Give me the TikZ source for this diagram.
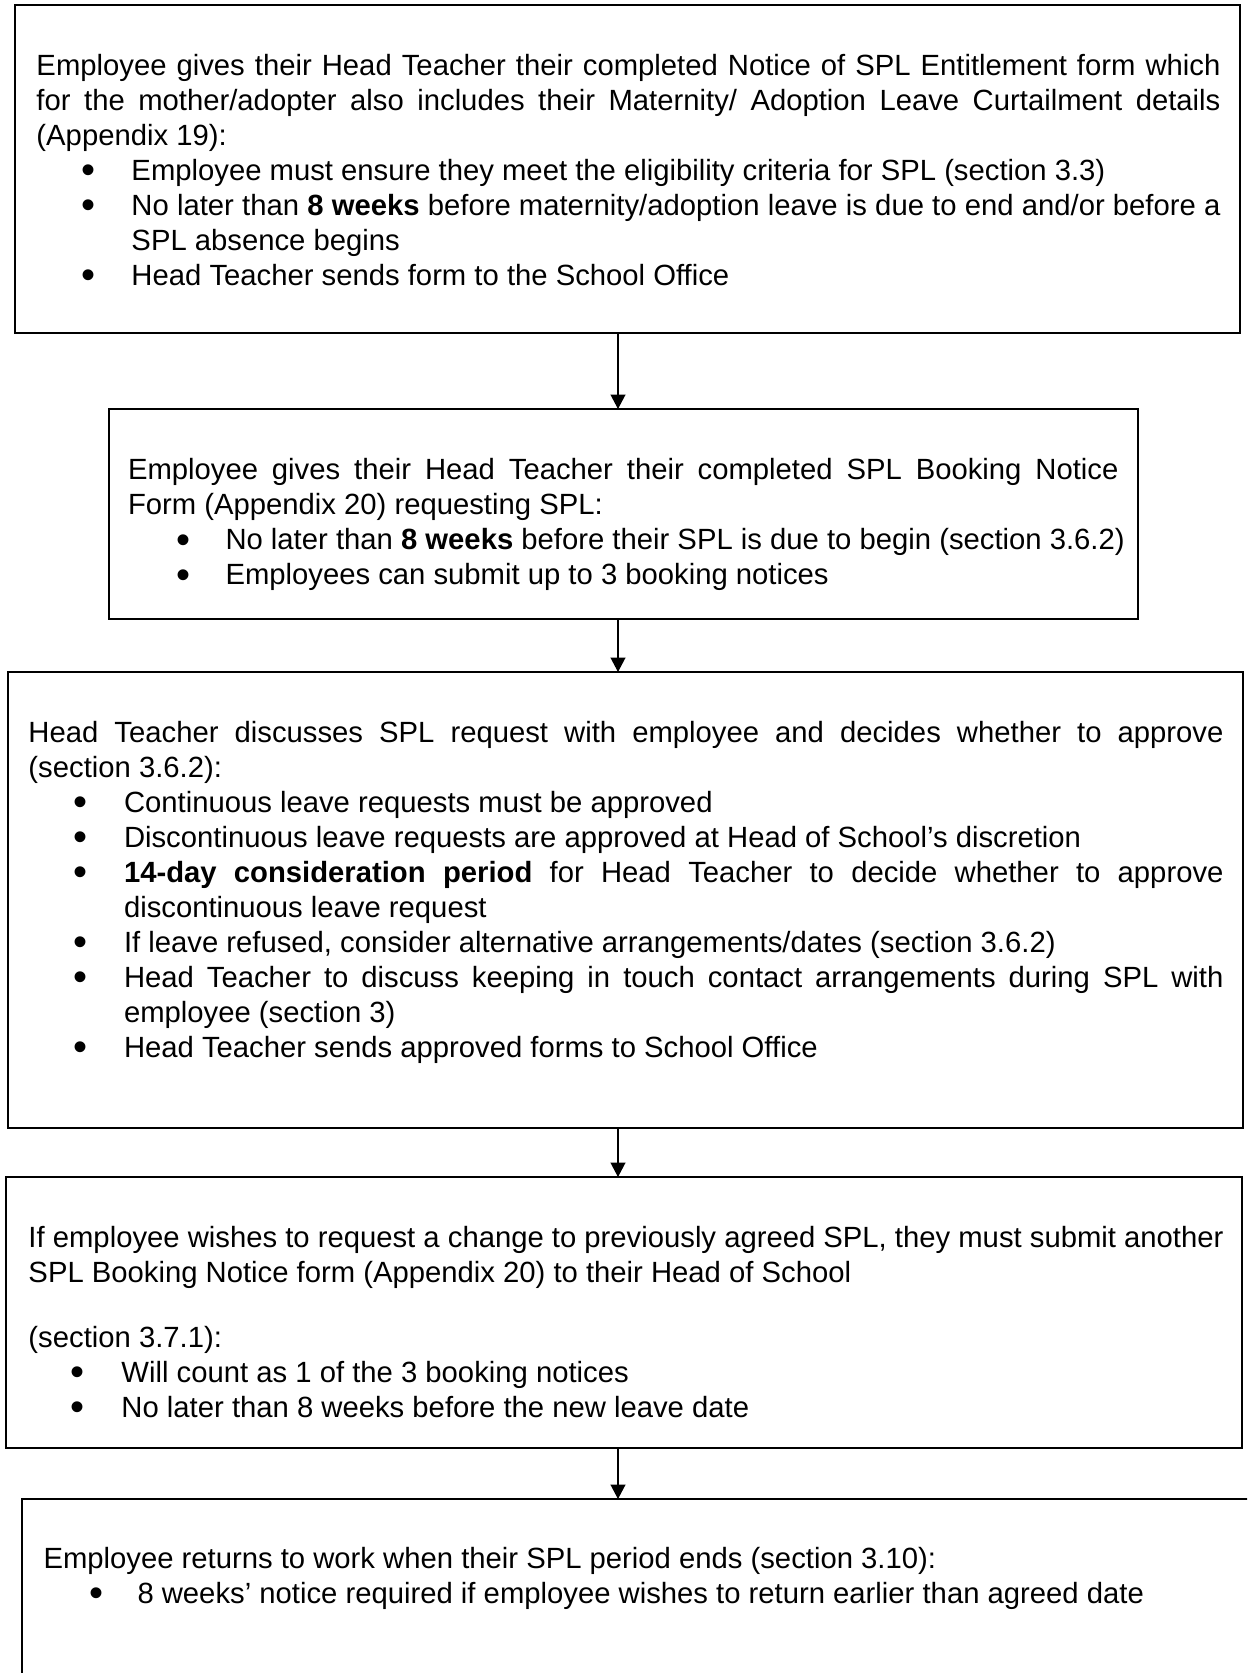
\documentclass[tikz,border=0pt]{standalone}
\usepackage{fontspec}
\setmainfont{Liberation Sans}
\usetikzlibrary{arrows.meta}
\newdimen\pxu \pxu=0.4pt
\newdimen\bulx \newdimen\txtx
\newcommand\bdot{\smash{\raisebox{-1.5pt}{\fontsize{16}{14}\selectfont\textbullet}}}
\newcommand\Lj[1]{\hbox to \hsize{#1}}
\newcommand\Lr[1]{\hbox{#1}}
\newcommand\Bh{\hbox to \txtx{\hskip\bulx\hbox to 0pt{\hss\bdot\hss}\hfil}}
\newcommand\Bj[1]{\hbox to \hsize{\Bh #1}}
\newcommand\Br[1]{\hbox{\Bh #1}}
\newcommand\Cr[1]{\hbox{\hskip\txtx #1}}
\newcommand\TB[4]{\vtop{\hsize=#1\pxu \bulx=#2\pxu \txtx=#3\pxu \baselineskip=35\pxu \lineskiplimit=-1000pt \lineskip=0pt #4}}
\begin{document}
\begin{tikzpicture}[x=0.4pt,y=-0.4pt,
  box/.style={draw=black,line width=0.8pt,rectangle,inner sep=0pt,outer sep=0pt,anchor=north west},
  txt/.style={inner sep=0pt,anchor=base west,font=\fontsize{11.7}{14}\selectfont},
  arr/.style={line width=0.5pt,-{Triangle[length=5.8pt,width=6pt]}}]
\useasboundingbox (0,0) rectangle (1247,1673);
\clip (0,0) rectangle (1247,1673);
\fill[white] (0,0) rectangle (1247,1673);
% boxes
\node[box,minimum width={1225*0.4pt},minimum height={328*0.4pt}] (b1) at (15,5) {};
\node[box,minimum width={1029*0.4pt},minimum height={210*0.4pt}] (b2) at (109,409) {};
\node[box,minimum width={1235*0.4pt},minimum height={456*0.4pt}] (b3) at (8,672) {};
\node[box,minimum width={1236*0.4pt},minimum height={271*0.4pt}] (b4) at (6,1177) {};
\node[box,minimum width={1300*0.4pt},minimum height={260*0.4pt}] (b5) at (22,1499) {};
% connectors
\coordinate (ax) at (618,0);
\draw[arr] (b1.south -| ax) -- (b2.north -| ax);
\draw[arr] (b2.south -| ax) -- (b3.north -| ax);
\draw[arr] (b3.south -| ax) -- (b4.north -| ax);
\draw[arr] (b4.south -| ax) -- (b5.north -| ax);
% texts
\node[txt] (t1) at (36,75) {\TB{1184}{52}{95}{%
\Lj{Employee gives their Head Teacher their completed Notice of SPL Entitlement form which}
\Lj{for the mother/adopter also includes their Maternity/ Adoption Leave Curtailment details}
\Lr{(Appendix 19):}
\Br{Employee must ensure they meet the eligibility criteria for SPL (section 3.3)}
\Bj{No later than \textbf{8 weeks} before maternity/adoption leave is due to end and/or before a}
\Cr{SPL absence begins}
\Br{Head Teacher sends form to the School Office}}};
\node[txt] (t2) at (127.5,479.5) {\TB{990.5}{55.5}{97.5}{%
\Lj{Employee gives their Head Teacher their completed SPL Booking Notice}
\Lr{Form (Appendix 20) requesting SPL:}
\Br{No later than \textbf{8 weeks} before their SPL is due to begin (section 3.6.2)}
\Br{Employees can submit up to 3 booking notices}}};
\node[txt] (t3) at (28,742) {\TB{1195}{52}{95.5}{%
\Lj{Head Teacher discusses SPL request with employee and decides whether to approve}
\Lr{(section 3.6.2):}
\Br{Continuous leave requests must be approved}
\Br{Discontinuous leave requests are approved at Head of School’s discretion}
\Bj{\textbf{14-day consideration period} for Head Teacher to decide whether to approve}
\Cr{discontinuous leave request}
\Br{If leave refused, consider alternative arrangements/dates (section 3.6.2)}
\Bj{Head Teacher to discuss keeping in touch contact arrangements during SPL with}
\Cr{employee (section 3)}
\Br{Head Teacher sends approved forms to School Office}}};
\node[txt] (t4) at (28,1247) {\TB{1195}{49}{93}{%
\Lj{If employee wishes to request a change to previously agreed SPL, they must submit another}
\Lr{SPL Booking Notice form (Appendix 20) to their Head of School}
\vskip 30\pxu
\Lr{(section 3.7.1):}
\Br{Will count as 1 of the 3 booking notices}
\Br{No later than 8 weeks before the new leave date}}};
\node[txt] (t5) at (43,1568) {\TB{1180}{53}{94}{%
\Lr{Employee returns to work when their SPL period ends (section 3.10):}
\Br{8 weeks’ notice required if employee wishes to return earlier than agreed date}}};
\end{tikzpicture}
\end{document}
